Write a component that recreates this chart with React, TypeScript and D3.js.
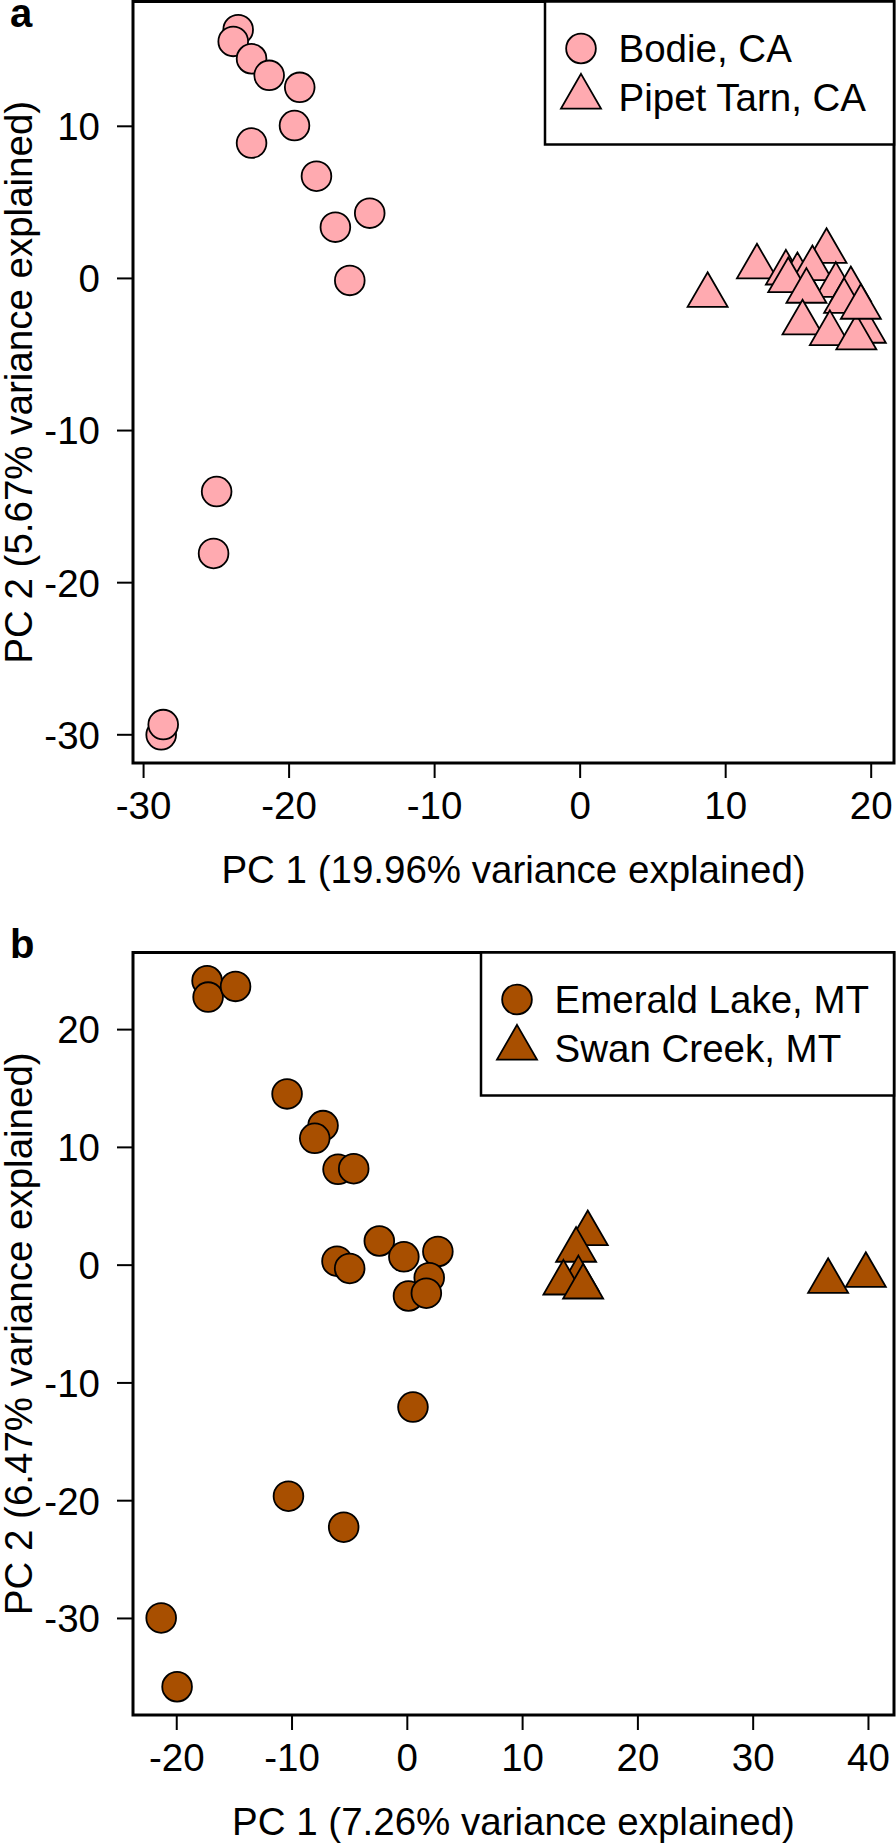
import React from "react";
import * as d3 from "d3";

// ---------- Data ----------
const bodieX = [-23.5, -23.84, -22.58, -21.37, -19.27, -19.63, -22.58, -18.12, -16.82, -14.46, -15.83, -24.98, -25.19, -28.79, -28.65];
const bodieY = [16.35, 15.58, 14.44, 13.35, 12.56, 10.05, 8.9, 6.72, 3.37, 4.29, -0.13, -14.01, -18.08, -30.0, -29.33];

const pipetX = [8.76, 12.15, 16.93, 14.14, 14.93, 15.96, 14.3, 17.57, 15.55, 18.6, 18.14, 15.28, 17.16, 19.63, 18.98, 19.29];
const pipetY = [-1.11, 0.76, 1.78, 0.36, 0.19, 0.65, -0.14, -0.45, -0.84, -0.73, -1.5, -2.92, -3.62, -3.47, -3.9, -1.89];

const emeraldX = [-17.37, -17.28, -14.9, -10.43, -7.31, -8.03, -6.01, -4.65, -2.43, -6.1, -5.0, -0.3, 2.65, 1.9, 0.1, 1.65, 0.49, -10.31, -5.52, -21.35, -19.97];
const emeraldY = [24.15, 22.76, 23.67, 14.54, 11.85, 10.77, 8.14, 8.19, 2.05, 0.34, -0.28, 0.71, 1.16, -1.06, -2.62, -2.38, -12.05, -19.62, -22.25, -29.96, -35.8];

const swanX = [15.65, 14.64, 14.84, 13.54, 15.25, 36.5, 39.77];
const swanY = [2.68, 1.27, -1.15, -1.51, -1.85, -1.37, -0.86];

const xTicksA = [-30, -20, -10, 0, 10, 20];
const yTicksA = [-30, -20, -10, 0, 10];
const xTicksB = [-20, -10, 0, 10, 20, 30, 40];
const yTicksB = [-30, -20, -10, 0, 10, 20];

const legendA = ["Bodie, CA", "Pipet Tarn, CA"];
const legendB = ["Emerald Lake, MT", "Swan Creek, MT"];

const PINK = "#FFAAB0";
const BROWN = "#A84F00";

const FONT = "'Liberation Sans', Arial, Helvetica, sans-serif";
const FS = 38.5;
const CIRCLE_R = 14.85;
const TRI_R = 23.1;
const triSize = (TRI_R / 2) * (TRI_R / 2) * 3 * Math.sqrt(3);
const triPath = d3.symbol().type(d3.symbolTriangle).size(triSize)() as string;

function padExtent(vals: number[]): [number, number] {
  const [lo, hi] = d3.extent(vals) as [number, number];
  const p = (hi - lo) * 0.04;
  return [lo - p, hi + p];
}

type PanelProps = {
  label: string;
  top: number;
  bottom: number;
  circX: number[];
  circY: number[];
  triX: number[];
  triY: number[];
  xTicks: number[];
  yTicks: number[];
  fill: string;
  legend: string[];
  legendLeft: number;
  xTitle: string;
  yTitle: string;
};

function Panel(p: PanelProps) {
  const left = 133;
  const right = 894;
  const x = d3.scaleLinear().domain(padExtent([...p.circX, ...p.triX])).range([left, right]);
  const y = d3.scaleLinear().domain(padExtent([...p.circY, ...p.triY])).range([p.bottom, p.top]);
  const midX = (left + right) / 2;
  const midY = (p.top + p.bottom) / 2;
  const legTop = p.top;
  const legBottom = p.top + 143;
  const row1 = legTop + 47;
  const row2 = legTop + 95.5;
  const symX = p.legendLeft + 36;
  const txtX = p.legendLeft + 73.5;
  return (
    <g>
      <text x={10} y={p.label === "a" ? 27 : 958} fontFamily={FONT} fontWeight="bold" fontSize={40}>
        {p.label}
      </text>
      {/* points */}
      {p.circX.map((v, i) => (
        <circle key={"c" + i} cx={x(v)} cy={y(p.circY[i])} r={CIRCLE_R} fill={p.fill} stroke="#000" strokeWidth={1.8} />
      ))}
      {p.triX.map((v, i) => (
        <path key={"t" + i} d={triPath} transform={`translate(${x(v)},${y(p.triY[i])})`} fill={p.fill} stroke="#000" strokeWidth={1.8} strokeLinejoin="miter" />
      ))}
      {/* box */}
      <rect x={left} y={p.top} width={right - left} height={p.bottom - p.top} fill="none" stroke="#000" strokeWidth={3} />
      {/* x axis */}
      {p.xTicks.map((t) => (
        <g key={"x" + t}>
          <line x1={x(t)} x2={x(t)} y1={p.bottom} y2={p.bottom + 15} stroke="#000" strokeWidth={2} />
          <text x={x(t)} y={p.bottom + 56} textAnchor="middle" fontFamily={FONT} fontSize={FS}>
            {t}
          </text>
        </g>
      ))}
      {p.yTicks.map((t) => (
        <g key={"y" + t}>
          <line x1={left - 16} x2={left} y1={y(t)} y2={y(t)} stroke="#000" strokeWidth={2} />
          <text x={100} y={y(t)} dy="0.36em" textAnchor="end" fontFamily={FONT} fontSize={FS}>
            {t}
          </text>
        </g>
      ))}
      <text x={midX} y={p.bottom + 120} textAnchor="middle" fontFamily={FONT} fontSize={FS}>
        {p.xTitle}
      </text>
      <text transform={`translate(32,${midY}) rotate(-90)`} textAnchor="middle" fontFamily={FONT} fontSize={FS}>
        {p.yTitle}
      </text>
      {/* legend */}
      <rect x={p.legendLeft} y={legTop} width={right - p.legendLeft} height={legBottom - legTop} fill="#fff" stroke="#000" strokeWidth={2.5} />
      <circle cx={symX} cy={row1} r={CIRCLE_R} fill={p.fill} stroke="#000" strokeWidth={1.8} />
      <path d={triPath} transform={`translate(${symX},${row2})`} fill={p.fill} stroke="#000" strokeWidth={1.8} />
      <text x={txtX} y={row1} dy="0.36em" fontFamily={FONT} fontSize={FS}>
        {p.legend[0]}
      </text>
      <text x={txtX} y={row2} dy="0.36em" fontFamily={FONT} fontSize={FS}>
        {p.legend[1]}
      </text>
    </g>
  );
}

export default function App() {
  return (
    <svg width={896} height={1845} style={{ position: "absolute", left: 0, top: 0, background: "#fff" }}>
      <rect x={0} y={0} width={896} height={1845} fill="#fff" />
      <Panel
        label="a"
        top={1.5}
        bottom={763}
        circX={bodieX}
        circY={bodieY}
        triX={pipetX}
        triY={pipetY}
        xTicks={xTicksA}
        yTicks={yTicksA}
        fill={PINK}
        legend={legendA}
        legendLeft={545}
        xTitle="PC 1 (19.96% variance explained)"
        yTitle="PC 2 (5.67% variance explained)"
      />
      <Panel
        label="b"
        top={952.5}
        bottom={1715}
        circX={emeraldX}
        circY={emeraldY}
        triX={swanX}
        triY={swanY}
        xTicks={xTicksB}
        yTicks={yTicksB}
        fill={BROWN}
        legend={legendB}
        legendLeft={481}
        xTitle="PC 1 (7.26% variance explained)"
        yTitle="PC 2 (6.47% variance explained)"
      />
    </svg>
  );
}
